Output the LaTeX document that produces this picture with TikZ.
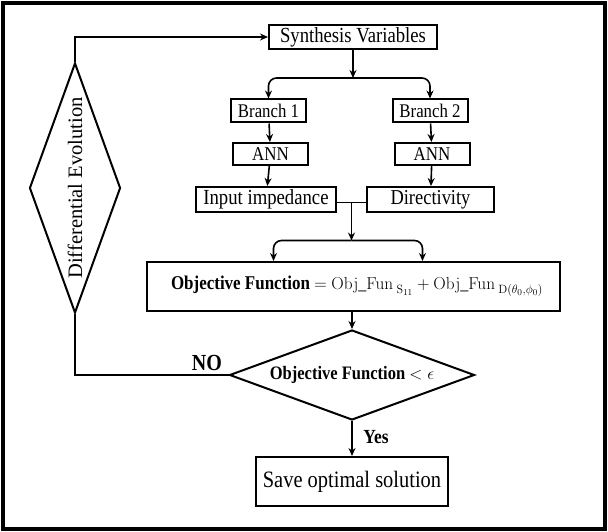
\documentclass[tikz,border=0pt]{standalone}
\usepackage[no-math]{fontspec}
\setmainfont{Liberation Serif}[FakeStretch=0.87]
\newfontfamily\plainserif{Liberation Serif}
\usetikzlibrary{shapes.geometric,arrows.meta,calc}
\begin{document}
\begin{tikzpicture}[x=1pt,y=-1pt,
  box/.style={draw, line width=2pt, inner sep=0pt, fill=white, font=\fontsize{21.5}{23}\selectfont},
  arr/.style={line width=1.6pt, -{Stealth[length=8pt,width=7pt]}},
  ln/.style={line width=1.6pt},
  lbl/.style={inner sep=0pt}]
\useasboundingbox (0,0) rectangle (608,532);
\fill[white] (0,0) rectangle (608,532);
\draw[line width=3.5pt] (3,3) rectangle (605,529);

\node[box, minimum width=168pt, minimum height=24pt] (syn) at (353,37) {Synthesis Variables};
\node[box, minimum width=75pt, minimum height=23pt, font=\fontsize{19.3}{21}\selectfont] (br1) at (268.5,111) {Branch 1};
\node[box, minimum width=75pt, minimum height=23pt, font=\fontsize{19.3}{21}\selectfont] (br2) at (430,111) {Branch 2};
\node[box, minimum width=75pt, minimum height=22pt, font=\fontsize{19.5}{21}\selectfont] (ann1) at (270.5,154) {ANN};
\node[box, minimum width=75pt, minimum height=22pt, font=\fontsize{19.5}{21}\selectfont] (ann2) at (432,154) {ANN};
\node[box, minimum width=140pt, minimum height=25pt] (inp) at (266,199.5) {Input impedance};
\node[box, minimum width=127pt, minimum height=25pt, font=\fontsize{21.2}{23}\selectfont] (dir) at (430.5,199.5) {Directivity};
\node[box, minimum width=413pt, minimum height=49pt, font=\fontsize{19.5}{21}\selectfont] (obj) at (353,286.5)
  {\hspace*{8pt}\textbf{Objective Function} {\fontsize{18.5}{20}\selectfont$=\mathrm{Obj\_Fun}_{\;\mathrm{S}_{11}}+\mathrm{Obj\_Fun}_{\;\mathrm{D}(\theta_0,\phi_0)}$}};
\node[draw, diamond, line width=2pt, fill=white, minimum width=245pt, minimum height=90pt, aspect=2.72, inner sep=0pt,
  font=\fontsize{19}{21}\selectfont] (dec) at (352,375) {\textbf{Objective Function} {\fontsize{17}{19}\selectfont$<\epsilon$}};
\node[box, minimum width=192pt, minimum height=49pt, font=\fontsize{23.5}{25}\selectfont] (save) at (352,481.5) {Save optimal solution};
\node[draw, diamond, line width=2pt, fill=white, minimum width=91pt, minimum height=250pt, aspect=0.364, inner sep=0pt,
  font=\plainserif\fontsize{20.5}{22}\selectfont] (de) at (75,188) {\rotatebox{90}{Differential Evolution}};
\node[lbl, font=\bfseries\fontsize{23}{25}\selectfont] (no) at (207,363) {NO};
\node[lbl, font=\bfseries\fontsize{20}{22}\selectfont] (yes) at (376,437) {Yes};

% top split
\coordinate (s1) at ([yshift=-28pt]syn.south);
\draw[arr] (syn.south) -- (s1);
\draw[arr, rounded corners=8pt] (s1) -| (br1.north);
\draw[arr, rounded corners=8pt] (s1) -| (br2.north);
\draw[arr] (br1) -- (ann1);
\draw[arr] (br2) -- (ann2);
\draw[arr] (ann1) -- (inp);
\draw[arr] (ann2) -- (dir);

% join
\draw[ln] ([yshift=-3pt]inp.east) -- ([yshift=-3pt]dir.west);
\coordinate (m) at ($(inp.east)!0.5!(dir.west)+(0,3)$);
\coordinate (s3) at ($(m)+(0,38)$);
\draw[arr] (m) -- (s3);
\draw[arr, rounded corners=8pt] (s3) -| ($(s3 |- obj.north)+(-78,0)$);
\draw[arr, rounded corners=8pt] (s3) -| ($(s3 |- obj.north)+(71,0)$);

\draw[arr] (dec.north |- obj.south) -- (dec.north);
\draw[arr] (dec.south) -- (save.north);

% loop
\draw[arr] (de.north) |- (syn.west);
\draw[line width=2.5pt] (dec.west) -| (de.south);
\end{tikzpicture}
\end{document}
